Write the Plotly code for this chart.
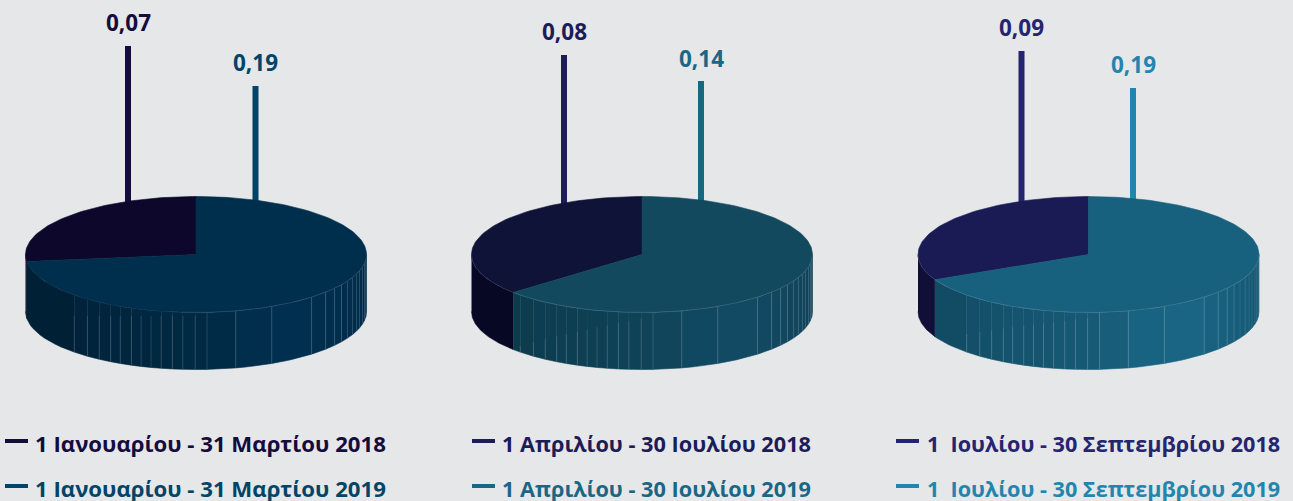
import numpy as np
import plotly.graph_objects as go

# values per period
periods = ["1 Ιανουαρίου - 31 Μαρτίου", "1 Απριλίου - 30 Ιουλίου", "1  Ιουλίου - 30 Σεπτεμβρίου"]
values_2018 = [0.07, 0.08, 0.09]
values_2019 = [0.19, 0.14, 0.19]
value_labels_2018 = ["0,07", "0,08", "0,09"]
value_labels_2019 = ["0,19", "0,14", "0,19"]

# pie look
BG = "#e6e7e9"
CENTERS = [196, 642, 1088.5]
CY, RX, RY, DEPTH = 254.5, 170.5, 58, 57
top_dark = ["#0d072b", "#101338", "#1a1b54"]
top_blue = ["#002f4d", "#13495f", "#17607e"]
side_dark = ["#0d072b", "#070824", "#0f0f38"]
side_stops = [
    ["#001d31", "#002a44", "#003050", "#002c49"],
    ["#0b3546", "#0f4358", "#134b65", "#104359"],
    ["#0f445a", "#175a76", "#1b6787", "#145670"],
]
text_2018 = ["#150c3d", "#1b1c58", "#25246f"]
text_2019 = ["#014468", "#1a6785", "#2385ae"]
stem_x = [[128, 255.5], [564, 701], [1021.5, 1133]]
stem_top = [[46, 86], [55, 81], [51, 88]]
label_y = [[22, 62], [31, 58], [27, 64]]
key_x = [5, 472, 896]
text_x = [33, 500, 925]
legend_size = [22.2, 21.7, 21.6]
row_y = [443, 488]
rim_from = [175, 90, 90]
# where the pale facet seams begin: y at the left end and at the bottom of the rim
seam_y = [(316, 316), (346, 318), (334, 318)]
facets = [-90, -45.6, -39.6, -34.6, -30, -26.4, -22.3, -18.8, -15.3, -11.8, -8, -4.4, -0.3,
          3.7, 13.5, 26.4, 42.7, 49.5, 54.4, 58.6, 62.7, 66.7, 70.3, 73.5, 77.5, 81, 85, 90]


def rim(cx, a_from, a_to, dy=0.0, n=80):
    # a: degrees counter clockwise from the top of the ellipse
    a = np.radians(np.linspace(a_from, a_to, n))
    return cx - RX * np.sin(a), CY - RY * np.cos(a) + dy


def mix(stops, t):
    rgb = np.array([[int(s[i:i + 2], 16) for i in (1, 3, 5)] for s in stops], dtype=float)
    pos = np.array([0.0, 0.5, 0.65, 1.0])
    vals = [np.interp(t, pos, rgb[:, k]) for k in range(3)]
    return "rgb(%d,%d,%d)" % tuple(vals)


def poly(x, y, color):
    return go.Scatter(x=x, y=y, mode="lines", fill="toself", fillcolor=color,
                      line=dict(color=color, width=0.6), hoverinfo="skip", showlegend=False)


def seg(x, y, color, width):
    return go.Scatter(x=x, y=y, mode="lines", line=dict(color=color, width=width),
                      hoverinfo="skip", showlegend=False)


fig = go.Figure()
for i, cx in enumerate(CENTERS):
    angle = 360 * values_2018[i] / (values_2018[i] + values_2019[i])

    # stems sit behind the pie
    fig.add_shape(type="line", x0=stem_x[i][0], x1=stem_x[i][0], y0=stem_top[i][0], y1=215,
                  line=dict(color=text_2018[i], width=6), layer="below")
    fig.add_shape(type="line", x0=stem_x[i][1], x1=stem_x[i][1], y0=stem_top[i][1], y1=215,
                  line=dict(color=text_2019[i], width=6), layer="below")

    # rim, one polygon per facet
    split = angle - 180
    if split > -90:
        x1, y1 = rim(cx, 90, angle)
        x2, y2 = rim(cx, angle, 90, DEPTH)
        fig.add_trace(poly(np.r_[x1, x2], np.r_[y1, y2], side_dark[i]))
    edges = [split if (f0 < split < f1) else f0 for f0, f1 in zip(facets[:-1], facets[1:])]
    edges = [e for e in edges if e >= split] + [90]
    for d0, d1 in zip(edges[:-1], edges[1:]):
        x1, y1 = rim(cx, 180 + d0, 180 + d1, n=12)
        x2, y2 = rim(cx, 180 + d1, 180 + d0, DEPTH, n=12)
        color = mix(side_stops[i], ((d0 + d1) / 2 + 90) / 180)
        fig.add_trace(poly(np.r_[x1, x2], np.r_[y1, y2], color))

    # pale seams between the facets
    for d in edges[1:-1]:
        xs, ys = rim(cx, 180 + d, 180 + d, n=1)
        xb, yb = rim(cx, 180 + d, 180 + d, DEPTH, n=1)
        t = min(1.0, max(0.0, (d + 45.6) / 45.6))
        start = seam_y[i][0] + (seam_y[i][1] - seam_y[i][0]) * t
        start = max(start, ys[0]) if d < 0 else ys[0]
        alpha = 0.2 if abs(d) < 60 else 0.12
        fig.add_trace(seg([xs[0], xs[0]], [start, yb[0]], "rgba(255,255,255,%.2f)" % alpha, 0.7))

    # top of the pie
    x1, y1 = rim(cx, 0, angle)
    fig.add_trace(poly(np.r_[cx, x1, cx], np.r_[CY, y1, CY], top_dark[i]))
    x2, y2 = rim(cx, angle, 360, n=160)
    fig.add_trace(poly(np.r_[cx, x2, cx], np.r_[CY, y2, CY], top_blue[i]))

    # thin highlight on the front edge
    x3, y3 = rim(cx, rim_from[i], 270, n=160)
    fig.add_trace(seg(x3, y3, "rgba(255,255,255,0.16)", 0.7))

    # value labels
    fig.add_annotation(x=stem_x[i][0], y=label_y[i][0], text="<b>%s</b>" % value_labels_2018[i],
                       font=dict(color=text_2018[i], size=22.5), showarrow=False)
    fig.add_annotation(x=stem_x[i][1], y=label_y[i][1], text="<b>%s</b>" % value_labels_2019[i],
                       font=dict(color=text_2019[i], size=22.5), showarrow=False)

    # legend rows
    for y, year, color in zip(row_y, ["2018", "2019"], [text_2018[i], text_2019[i]]):
        fig.add_shape(type="line", x0=key_x[i], x1=key_x[i] + 23, y0=y - 2, y1=y - 2,
                      line=dict(color=color, width=4))
        fig.add_annotation(x=text_x[i], y=y, text="<b>%s %s</b>" % (periods[i], year), xanchor="left",
                           font=dict(color=color, size=legend_size[i]), showarrow=False)

fig.update_layout(
    width=1293,
    height=501,
    margin=dict(l=0, r=0, t=0, b=0),
    paper_bgcolor=BG,
    plot_bgcolor=BG,
    showlegend=False,
    font=dict(family="Open Sans"),
    xaxis=dict(range=[0, 1293], visible=False, fixedrange=True),
    yaxis=dict(range=[501, 0], visible=False, fixedrange=True),
)
fig.write_html(
    "out.html",
    config=dict(displayModeBar=False),
    post_script="document.body.style.margin='0';document.body.style.overflow='hidden';",
)
